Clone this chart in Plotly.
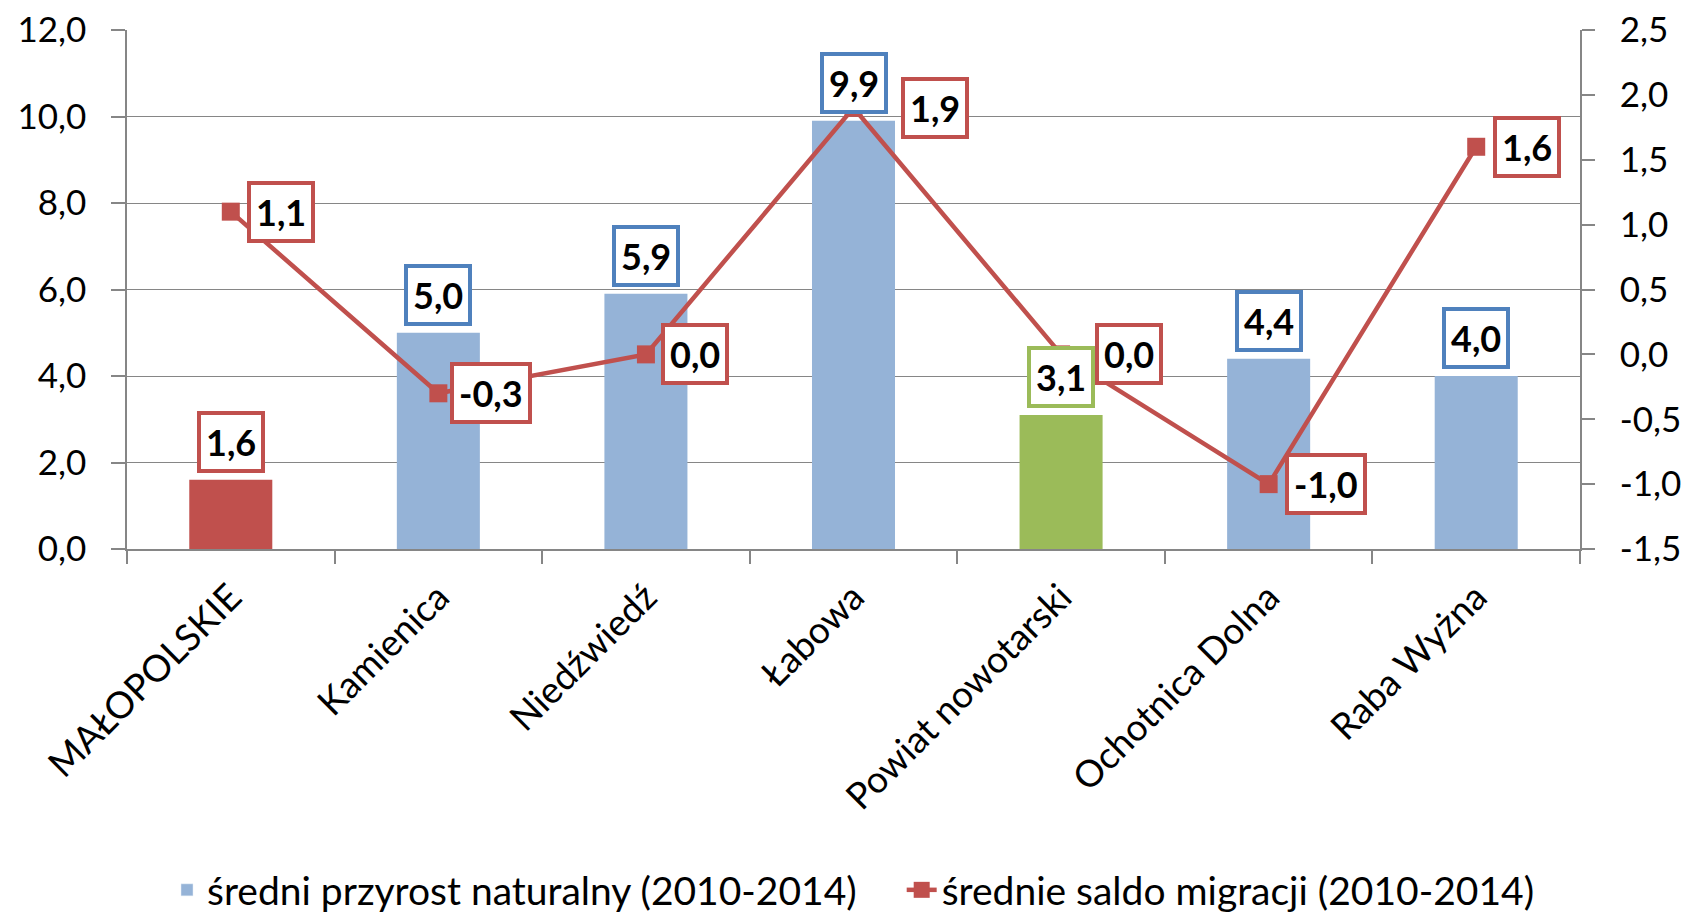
import plotly.graph_objects as go

categories = ["MAŁOPOLSKIE", "Kamienica", "Niedźwiedź", "Łabowa",
              "Powiat nowotarski", "Ochotnica Dolna", "Raba Wyżna"]
natural_growth = [1.6, 5.0, 5.9, 9.9, 3.1, 4.4, 4.0]
migration = [1.1, -0.3, 0.0, 1.9, 0.0, -1.0, 1.6]
left_ticks = [0, 2, 4, 6, 8, 10, 12]
right_ticks = [-1.5, -1.0, -0.5, 0.0, 0.5, 1.0, 1.5, 2.0, 2.5]

bar_colors = ["#C0504D", "#95B3D7", "#95B3D7", "#95B3D7", "#9BBB59", "#95B3D7", "#95B3D7"]
bar_label_borders = ["#C0504D", "#4F81BD", "#4F81BD", "#4F81BD", "#9BBB59", "#4F81BD", "#4F81BD"]
line_label_xshift = [16, 12, 15, 47, 34, 16, 17]

FONT = "Lato"
RED = "#C0504D"
GRID = "#868686"

def fmt(v):
    return f"{v:.1f}".replace(".", ",")

fig = go.Figure()

fig.add_trace(go.Bar(
    x=categories, y=natural_growth, width=0.4,
    marker=dict(color=bar_colors, line=dict(width=0)),
    showlegend=False, yaxis="y"))
# legend entry for bars
fig.add_trace(go.Bar(
    x=[None], y=[None], marker=dict(color="#95B3D7"),
    name="średni przyrost naturalny (2010-2014)    ", showlegend=True))
fig.add_trace(go.Scatter(
    x=categories, y=migration, yaxis="y2", mode="lines+markers",
    line=dict(color=RED, width=4.5),
    marker=dict(symbol="square", size=18, color=RED),
    name="średnie saldo migracji (2010-2014)"))

annotations = []
for c, v, bc in zip(categories, natural_growth, bar_label_borders):
    annotations.append(dict(
        x=c, y=v, xref="x", yref="y", yanchor="bottom", xanchor="center",
        yshift=7, text=f"<b>{fmt(v)}</b>", showarrow=False,
        bgcolor="white", bordercolor=bc, borderwidth=4, borderpad=5,
        font=dict(family=FONT, size=36, color="black")))
for c, m, dx in zip(categories, migration, line_label_xshift):
    annotations.append(dict(
        x=c, y=m, xref="x", yref="y2", yanchor="middle", xanchor="left",
        xshift=dx, text=f"<b>{fmt(m)}</b>", showarrow=False,
        bgcolor="white", bordercolor=RED, borderwidth=4, borderpad=5,
        font=dict(family=FONT, size=36, color="black")))

fig.update_layout(
    width=1690, height=913,
    margin=dict(l=127, r=110, t=30, b=364, autoexpand=False),
    paper_bgcolor="white", plot_bgcolor="white",
    separators=", ",
    barmode="overlay",
    font=dict(family=FONT, size=36, color="black"),
    annotations=annotations,
    xaxis=dict(
        type="category", tickangle=-45, tickson="boundaries",
        ticks="outside", ticklen=13, tickcolor=GRID, tickwidth=1.5,
        showline=True, linecolor=GRID, linewidth=1.5, showgrid=False,
        ticklabelstandoff=10, automargin=False,
        tickfont=dict(family=FONT, size=37, color="black")),
    yaxis=dict(
        range=[0, 12], tickmode="array", tickvals=left_ticks,
        ticktext=[fmt(t) for t in left_ticks],
        ticks="outside", ticklen=14, tickcolor=GRID, tickwidth=1.5,
        showline=True, linecolor=GRID, linewidth=1.5,
        showgrid=True, gridcolor=GRID, gridwidth=1.3, zeroline=False,
        ticklabelstandoff=18, automargin=False,
        tickfont=dict(family=FONT, size=35, color="black")),
    yaxis2=dict(
        range=[-1.5, 2.5], tickmode="array", tickvals=right_ticks,
        ticktext=[fmt(t) for t in right_ticks],
        overlaying="y", side="right",
        ticks="outside", ticklen=13, tickcolor=GRID, tickwidth=1.5,
        showline=True, linecolor=GRID, linewidth=1.5,
        showgrid=False, zeroline=False,
        ticklabelstandoff=18, automargin=False,
        tickfont=dict(family=FONT, size=35, color="black")),
    legend=dict(
        orientation="h", x=0.5, xanchor="center", y=-0.657, yanchor="middle",
        font=dict(family=FONT, size=39, color="black"),
        bgcolor="rgba(0,0,0,0)", traceorder="normal"),
)

fig.write_html("out.html", config={"displayModeBar": False},
               post_script="document.body.style.margin='0';")
